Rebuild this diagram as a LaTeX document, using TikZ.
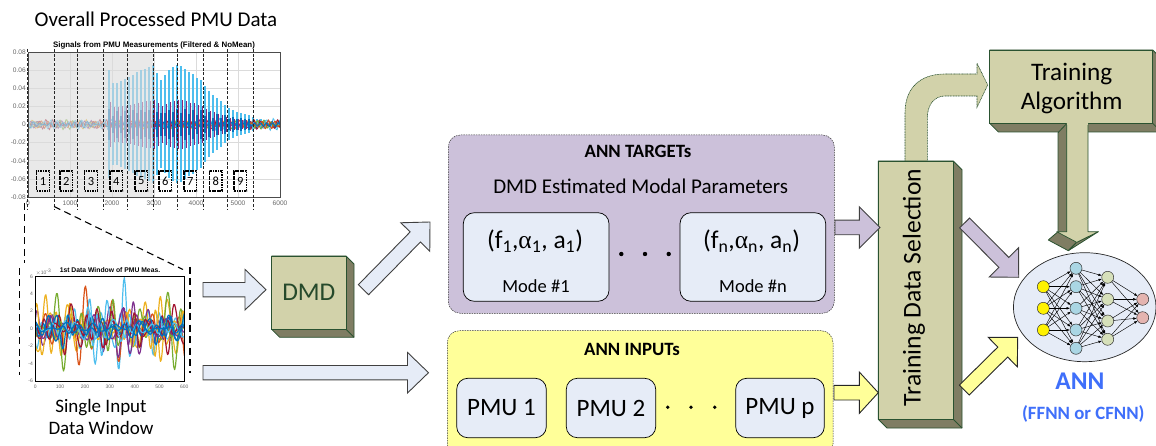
\documentclass[tikz,border=0pt]{standalone}
\usepackage{fontspec}
\setmainfont{Carlito}
\newfontfamily\plotfont{Liberation Sans}
\newfontfamily\greekfont{Liberation Serif}
\usetikzlibrary{calc,arrows.meta}
\definecolor{facecol}{HTML}{D2D2AA}
\definecolor{sidecol}{HTML}{7F7D63}
\definecolor{edgecol}{HTML}{2A5230}
\definecolor{palecol}{HTML}{E6ECF7}
\definecolor{purplecol}{HTML}{CCC1DA}
\definecolor{yellowcol}{HTML}{FFFF99}
\definecolor{annblue}{HTML}{3F6FFA}
\definecolor{mblue}{HTML}{0072BD}
\definecolor{morange}{HTML}{D95319}
\definecolor{myellow}{HTML}{EDB120}
\definecolor{mpurple}{HTML}{7E2F8E}
\definecolor{mgreen}{HTML}{77AC30}
\definecolor{msky}{HTML}{4DBEEE}
\definecolor{mred}{HTML}{A2142F}
\definecolor{nblue}{HTML}{AAD6E4}
\definecolor{ngreen}{HTML}{D6E0BA}
\definecolor{npink}{HTML}{E4B4B0}
\tikzset{
  face/.style={draw=edgecol,fill=facecol,line width=.8pt,inner sep=0pt,outer sep=0pt,anchor=north west,text=black},
  side/.style={draw=edgecol,fill=sidecol,line width=.8pt,line join=round},
  blockpale/.style={draw=black!75,fill=palecol,line width=.9pt,line join=miter},
  blockpurple/.style={draw=black!75,fill=purplecol,line width=.9pt,line join=miter},
  blockyellow/.style={draw=black!85,fill=yellowcol,line width=.9pt,line join=miter},
  panel/.style={draw=black!80,line width=.5pt,dash pattern=on 1.5pt off 1pt,rounded corners=12pt,inner sep=0pt,outer sep=0pt,anchor=north west},
  subbox/.style={draw=black,fill=palecol,line width=.7pt,rounded corners=11pt,inner sep=0pt,outer sep=0pt,anchor=north west},
  neuron/.style={circle,draw=black!80,line width=.5pt,minimum size=12pt,inner sep=0pt,outer sep=0pt},
  syn/.style={-{Latex[length=3.5pt,width=2.6pt]},line width=.45pt,black},
  windowline/.style={black!85,line width=.7pt,dash pattern=on 3pt off 1.7pt},
  zoomline/.style={black,line width=1.1pt,dash pattern=on 7pt off 4.5pt},
  numbox/.style={draw=black,line width=1.4pt,dash pattern=on 1.6pt off .9pt,minimum width=12.5pt,minimum height=20pt,inner sep=0pt,font=\fontsize{12.5}{12.5}\selectfont},
  ticktext/.style={text=black!60,inner sep=0pt,font=\plotfont\fontsize{6.6}{7}\selectfont},
  smalltick/.style={text=black!60,inner sep=0pt,font=\plotfont\fontsize{5}{6}\selectfont},
  plain/.style={inner sep=0pt,align=center},
  dotmark/.style={circle,fill=black,inner sep=0pt}
}
\newcommand\solidbox[7]{%
  \fill[side] (#2,#3) -- (#4,#3) -- ({#4+#6},{#3+#6}) -- ({#4+#6},{#5+#6}) -- ({#2+#6},{#5+#6}) -- (#2,#5) -- cycle;
  \draw[side] (#4,#5) -- ({#4+#6},{#5+#6});
  \pgfmathsetmacro\bw{#4-#2}\pgfmathsetmacro\bh{#5-#3}
  \node[face,minimum width=\bw pt,minimum height=\bh pt,align=center] (#1) at (#2,#3) {#7};}
\newcommand\blockarrow[6]{% style from to halfshaft halfhead headlength
  \coordinate (neck) at ($(#3)!#6pt!(#2)$);
  \draw[#1] ($(#2)!#4pt!90:(#3)$) -- ($(neck)!#4pt!90:(#3)$) -- ($(neck)!#5pt!90:(#3)$) -- (#3)
     -- ($(neck)!#5pt!-90:(#3)$) -- ($(neck)!#4pt!-90:(#3)$) -- ($(#2)!#4pt!-90:(#3)$) -- cycle;}
\begin{document}
\begin{tikzpicture}[x=1pt,y=-1pt]
\useasboundingbox (0,0) rectangle (1156,446);
% ---------- top plot
\foreach \v in {52,70.1,88.25,106.4,124.5,142.6,160.75,178.9,197} \draw[black!14,line width=.5pt] (28,\v) -- (280,\v);
\foreach \v in {70,112,154,196,238} \draw[black!14,line width=.5pt] (\v,52) -- (\v,197);
\begin{scope}
\clip (28,52) rectangle (280,197);
\foreach \c/\p/\A in {myellow/20/2.2,mpurple/75/2.2,mgreen/130/2.4,morange/200/2,mred/260/2.4,msky/310/2.8,mblue/350/1.7}
  \draw[\c,line width=.8pt] plot[domain=28:280,samples=260] (\x,{124.5+\A*(sin(60*(\x-28)+\p)+.7*sin(47*(\x-28)+2*\p)+.5*sin(53*(\x-28)+3*\p))});
\foreach \x/\a in {109/54,113/41,117/41,121/43,125/45,129/47,133/49,137/52,141/54,145/55,149/57,153/59,157/51,161/44,165/49,169/54,173/57,177/59,181/58,185/55,189/52,193/50,197/46,201/44,205/38,209/33,213/29,217/26,221/23,225/19,229/16,233/14,237/12,241/11,245/10,249/9,253/7,257/5,261/5,265/4}{
  \draw[msky,line width=2.6pt] (\x,{124.5-\a}) -- (\x,{124.5+\a});
}
\foreach \x/\a in {109/54,113/41,117/41,121/43,125/45,129/47,133/49,137/52,141/54,145/55,149/57,153/59,157/51,161/44,165/49,169/54,173/57,177/59,181/58,185/55,189/52,193/50,197/46,201/44,205/38,209/33,213/29,217/26,221/23,225/19,229/16,233/14,237/12,241/11,245/10,249/9}{
  \pgfmathsetmacro\bb{.42*\a}
  \draw[mpurple!80!mred,line width=.6pt] (\x+1.6,{124.5-\bb}) -- (\x+1.6,{124.5+\bb});
  \pgfmathsetmacro\bc{4.5+.16*\a+2.5*sin(\x*47)}
  \draw[mblue,line width=2.8pt] (\x,{124.5-\bc}) -- (\x,{124.5+\bc});
}
\foreach \c/\p/\A in {mred/40/3,mgreen/160/2.6,morange/240/2.6}
  \draw[\c,line width=.8pt] plot[domain=250:280,samples=40] (\x,{124.5+\A*(sin(60*(\x-250)+\p)+.7*sin(47*(\x-250)+2*\p))});
\draw[mblue,line width=1pt] plot[domain=250:280,samples=40] (\x,{124.5+1.5*sin(60*(\x-250))});
\end{scope}
\fill[black!14,opacity=.62] (28,52) rectangle (153.4,197);
\draw[black!70,line width=.7pt] (28,52) rectangle (280,197);
\foreach \v/\t in {52/0.08,70.1/0.06,88.25/0.04,106.4/0.02,124.5/0,142.6/-0.02,160.75/-0.04,178.9/-0.06,197/-0.08}
  \node[ticktext,anchor=east] (yl\v) at (26,\v) {\t};
\foreach \v/\t in {28/0,70/1000,112/2000,154/3000,196/4000,238/5000,280/6000}
  \node[ticktext,anchor=center] (xl\v) at (\v,203.5) {\t};
\node[plain,font=\plotfont\bfseries\fontsize{7.9}{8}\selectfont] (toptitle) at (154,45.5) {Signals from PMU Measurements (Filtered \& NoMean)};
\foreach \v in {27.7,54,77.7,103.7,127.3,153.3,177.3,203.3,227.3,253.3}
  \draw[windowline] (\v,49) -- (\v,209);
\foreach \n/\v in {1/43,2/66.3,3/91,4/116.3,5/141.3,6/165.3,7/190.3,8/215.7,9/240.3}
  \node[numbox] (win\n) at (\v,181) {\n};
\node[plain,font=\fontsize{21}{24}\selectfont] (toplabel) at (156,19) {Overall Processed PMU Data};
% ---------- zoom lines
\coordinate (zla) at (24.5,203); \coordinate (zlb) at (24.5,263);
\coordinate (zda) at (54,206.5); \coordinate (zdb) at (183,269.5);
\draw[zoomline] (zla) -- (zlb);
\draw[zoomline] (zda) -- (zdb);
\coordinate (wla) at (19.7,268); \coordinate (wlb) at (19.7,375);
\coordinate (wra) at (190,267); \coordinate (wrb) at (190,373);
\draw[zoomline] (wla) -- (wlb);
\draw[zoomline] (wra) -- (wrb);
% ---------- window plot
\begin{scope}
\clip (35.3,276.3) rectangle (184.3,381);
\foreach \c/\p/\A/\f in {msky/15/30/31,myellow/70/26/29,morange/125/27/27,mgreen/240/25/26,mpurple/190/24/30,msky/300/22/33,myellow/160/20/32,mred/50/20/28,mgreen/20/17/34,mpurple/100/16/25,mblue/330/13/31,mred/280/13/32,msky/210/11/29,mblue/160/9/24,mblue/20/7/27}
  \draw[\c,line width=1.2pt,line join=round] plot[domain=35.3:184.3,samples=170] (\x,{328.7+\A*(.75*sin(\f*\x+\p)+.5*sin(.62*\f*\x+2*\p)+.35*sin(1.37*\f*\x+3*\p))*(.72+.38*sin(3.3*\x+4*\p))});
\end{scope}
\draw[black,line width=.8pt] (35.3,276.3) rectangle (184.3,381);
\foreach \v/\t in {276.3/6,293.8/4,311.2/2,328.7/0,346.1/-2,363.6/-4,381/-6}
  \node[smalltick,anchor=east] (wy\v) at (33,\v) {\t};
\foreach \v/\t in {35.3/0,60.1/100,85/200,109.8/300,134.7/400,159.5/500,184.3/600}
  \node[smalltick] (wx\v) at (\v,387) {\t};
\node[smalltick,anchor=west] (wexp) at (35.3,272.5) {$\times$10\textsuperscript{-3}};
\node[plain,font=\plotfont\bfseries\fontsize{6.8}{7}\selectfont] (wintitle) at (110,270.5) {1st Data Window of PMU Meas.};
\node[plain,font=\fontsize{19}{22.6}\selectfont] (winlabel) at (101,417) {Single Input\\Data Window};
% ---------- DMD
\solidbox{dmd}{271.7}{256}{346}{329.3}{8}{}
\node[plain,text=edgecol!90!black,font=\fontsize{25.5}{26}\selectfont] (dmdtext) at (dmd.center) {DMD};
% ---------- panels
\node[panel,fill=purplecol,minimum width=386pt,minimum height=178.3pt] (targets) at (448.3,135) {};
\node[panel,fill=yellowcol,minimum width=385.7pt,minimum height=125pt] (inputs) at (447.3,330.7) {};
\node[plain,font=\bfseries\fontsize{18.8}{20}\selectfont] (targettitle) at (638,151) {ANN TARGETs};
\node[plain,font=\fontsize{21}{22}\selectfont] (estim) at (640.7,186) {DMD Estimated Modal Parameters};
\node[subbox,minimum width=145.7pt,minimum height=88.6pt] (mode1) at (463.3,212.7) {};
\node[subbox,minimum width=145.7pt,minimum height=88.6pt] (moden) at (680,212.7) {};
\node[plain,font=\fontsize{25.5}{27}\selectfont] (par1) at (535,241) {(f\textsubscript{1},{\greekfont α}\textsubscript{1}, a\textsubscript{1})};
\node[plain,font=\fontsize{25.5}{27}\selectfont] (parn) at (751.5,241) {(f\textsubscript{n},{\greekfont α}\textsubscript{n}, a\textsubscript{n})};
\node[plain,font=\fontsize{18.5}{20}\selectfont] (modelab1) at (536,286) {Mode \#1};
\node[plain,font=\fontsize{18.5}{20}\selectfont] (modelabn) at (753,286) {Mode \#n};
\foreach \v/\n in {621.3/a,645/b,668.7/c} \node[dotmark,minimum size=4.4pt] (dot\n) at (\v,254) {};
\node[plain,font=\bfseries\fontsize{18.8}{20}\selectfont] (inputtitle) at (632,349) {ANN INPUTs};
\node[subbox,minimum width=89.6pt,minimum height=59.4pt,font=\fontsize{25}{26}\selectfont] (pmu1) at (456.7,378.3) {PMU 1};
\node[subbox,minimum width=89.4pt,minimum height=59.4pt,font=\fontsize{25}{26}\selectfont] (pmu2) at (566.3,378.3) {PMU 2};
\node[subbox,minimum width=88.6pt,minimum height=59.4pt,font=\fontsize{25}{26}\selectfont] (pmup) at (735.7,378.3) {PMU p};
\foreach \v/\n in {667.7/d,691/e,714.7/f} \node[dotmark,minimum size=3.8pt] (dot\n) at (\v,407.3) {};
% ---------- curved arrow (behind boxes)
\coordinate (cva) at (905,162); \coordinate (cvb) at (927.3,162);
\draw[draw=edgecol,fill=facecol,line width=.6pt,dash pattern=on 1pt off .6pt] (cva) -- (905,113) .. controls (905,88) and (920,74) .. (945,74) -- (977,74) -- (977,63.3) -- (987.7,85) -- (977,107.3) -- (977,96) -- (945,96) .. controls (935,96) and (927.3,104) .. (927.3,118) -- (cvb) -- cycle;
% ---------- training boxes
\solidbox{select}{878.3}{161}{953.3}{419.3}{8.7}{}
\node[plain,rotate=90,font=\fontsize{25.6}{28}\selectfont] (selecttext) at (914,287.5) {Training Data Selection};
% down arrow
\solidbox{algo}{989.7}{50}{1152.7}{123.3}{8.7}{}
\node[plain,font=\fontsize{25.2}{29}\selectfont] (algotext) at (1071.7,88.5) {Training\\Algorithm};
\fill[side] (1066.7,123.6) -- (1058,132.7) -- (1058,231.7) -- (1048.3,240) -- (1068.3,250.7) -- (1076.7,242.3) -- (1066.7,231.7) -- cycle;
\fill[side] (1098.3,231.7) -- (1076.7,242.3) -- (1068.3,250.7) -- cycle;
\draw[draw=edgecol,line width=.7pt,fill=facecol,line join=round] (1066.7,123.3) -- (1066.7,231.7) -- (1056.7,231.7) -- (1076.7,242.3) -- (1098.3,231.7) -- (1088,231.7) -- (1088,123.3);
\fill[facecol] (1067.1,122) rectangle (1087.6,125);
% ---------- block arrows
\coordinate (a1s) at (203,289.7); \coordinate (a1t) at (266,289.7);
\blockarrow{blockpale}{a1s}{a1t}{7.2}{20.3}{21}
\coordinate (a2s) at (203,372.7); \coordinate (a2t) at (428.5,372.7);
\blockarrow{blockpale}{a2s}{a2t}{7.2}{20.3}{21}
\coordinate (a3s) at (363.5,289.7); \coordinate (a3t) at (430,222);
\blockarrow{blockpale}{a3s}{a3t}{7.2}{20.3}{21}
\coordinate (a4s) at (835,227.5); \coordinate (a4t) at (880,227.5);
\blockarrow{blockpurple}{a4s}{a4t}{7.3}{20.7}{20.7}
\coordinate (a5s) at (834,392.7); \coordinate (a5t) at (878.3,392.7);
\blockarrow{blockyellow}{a5s}{a5t}{7.3}{20.7}{19}
\coordinate (a6s) at (964.6,223); \coordinate (a6t) at (1018.7,277.3);
\blockarrow{blockpurple}{a6s}{a6t}{7}{20.7}{21}
\coordinate (a7s) at (964.3,390); \coordinate (a7t) at (1017.7,337.3);
\blockarrow{blockyellow}{a7s}{a7t}{7}{20.7}{21}
% ---------- ANN
\draw[black!85,fill=palecol,line width=.7pt] (1084.7,307.2) ellipse [x radius=71.3,y radius=54.5];
\foreach \n/\v in {1/286.7,2/308.3,3/330} \node[neuron,fill=yellow] (i\n) at (1043.3,\v) {};
\foreach \n/\v in {1/268.3,2/286.7,3/308.3,4/330,5/348.3} \node[neuron,fill=nblue] (h\n) at (1076,\v) {};
\foreach \n/\v in {1/277.3,2/299.3,3/321,4/339.3} \node[neuron,fill=ngreen] (k\n) at (1107.7,\v) {};
\foreach \n/\v in {1/299.3,2/317.7} \node[neuron,fill=npink] (o\n) at (1142.7,\v) {};
\foreach \a in {1,2,3}\foreach \b in {1,...,5} \draw[syn] (i\a) -- (h\b);
\foreach \a in {1,...,5}\foreach \b in {1,...,4} \draw[syn] (h\a) -- (k\b);
\foreach \a in {1,...,4}\foreach \b in {1,2} \draw[syn] (k\a) -- (o\b);
\node[plain,text=annblue,font=\bfseries\fontsize{25.5}{26}\selectfont] (annlabel) at (1080,381) {ANN};
\node[plain,text=annblue,font=\bfseries\fontsize{18.8}{20}\selectfont] (annsub) at (1083.3,414) {(FFNN or CFNN)};
\end{tikzpicture}
\end{document}
